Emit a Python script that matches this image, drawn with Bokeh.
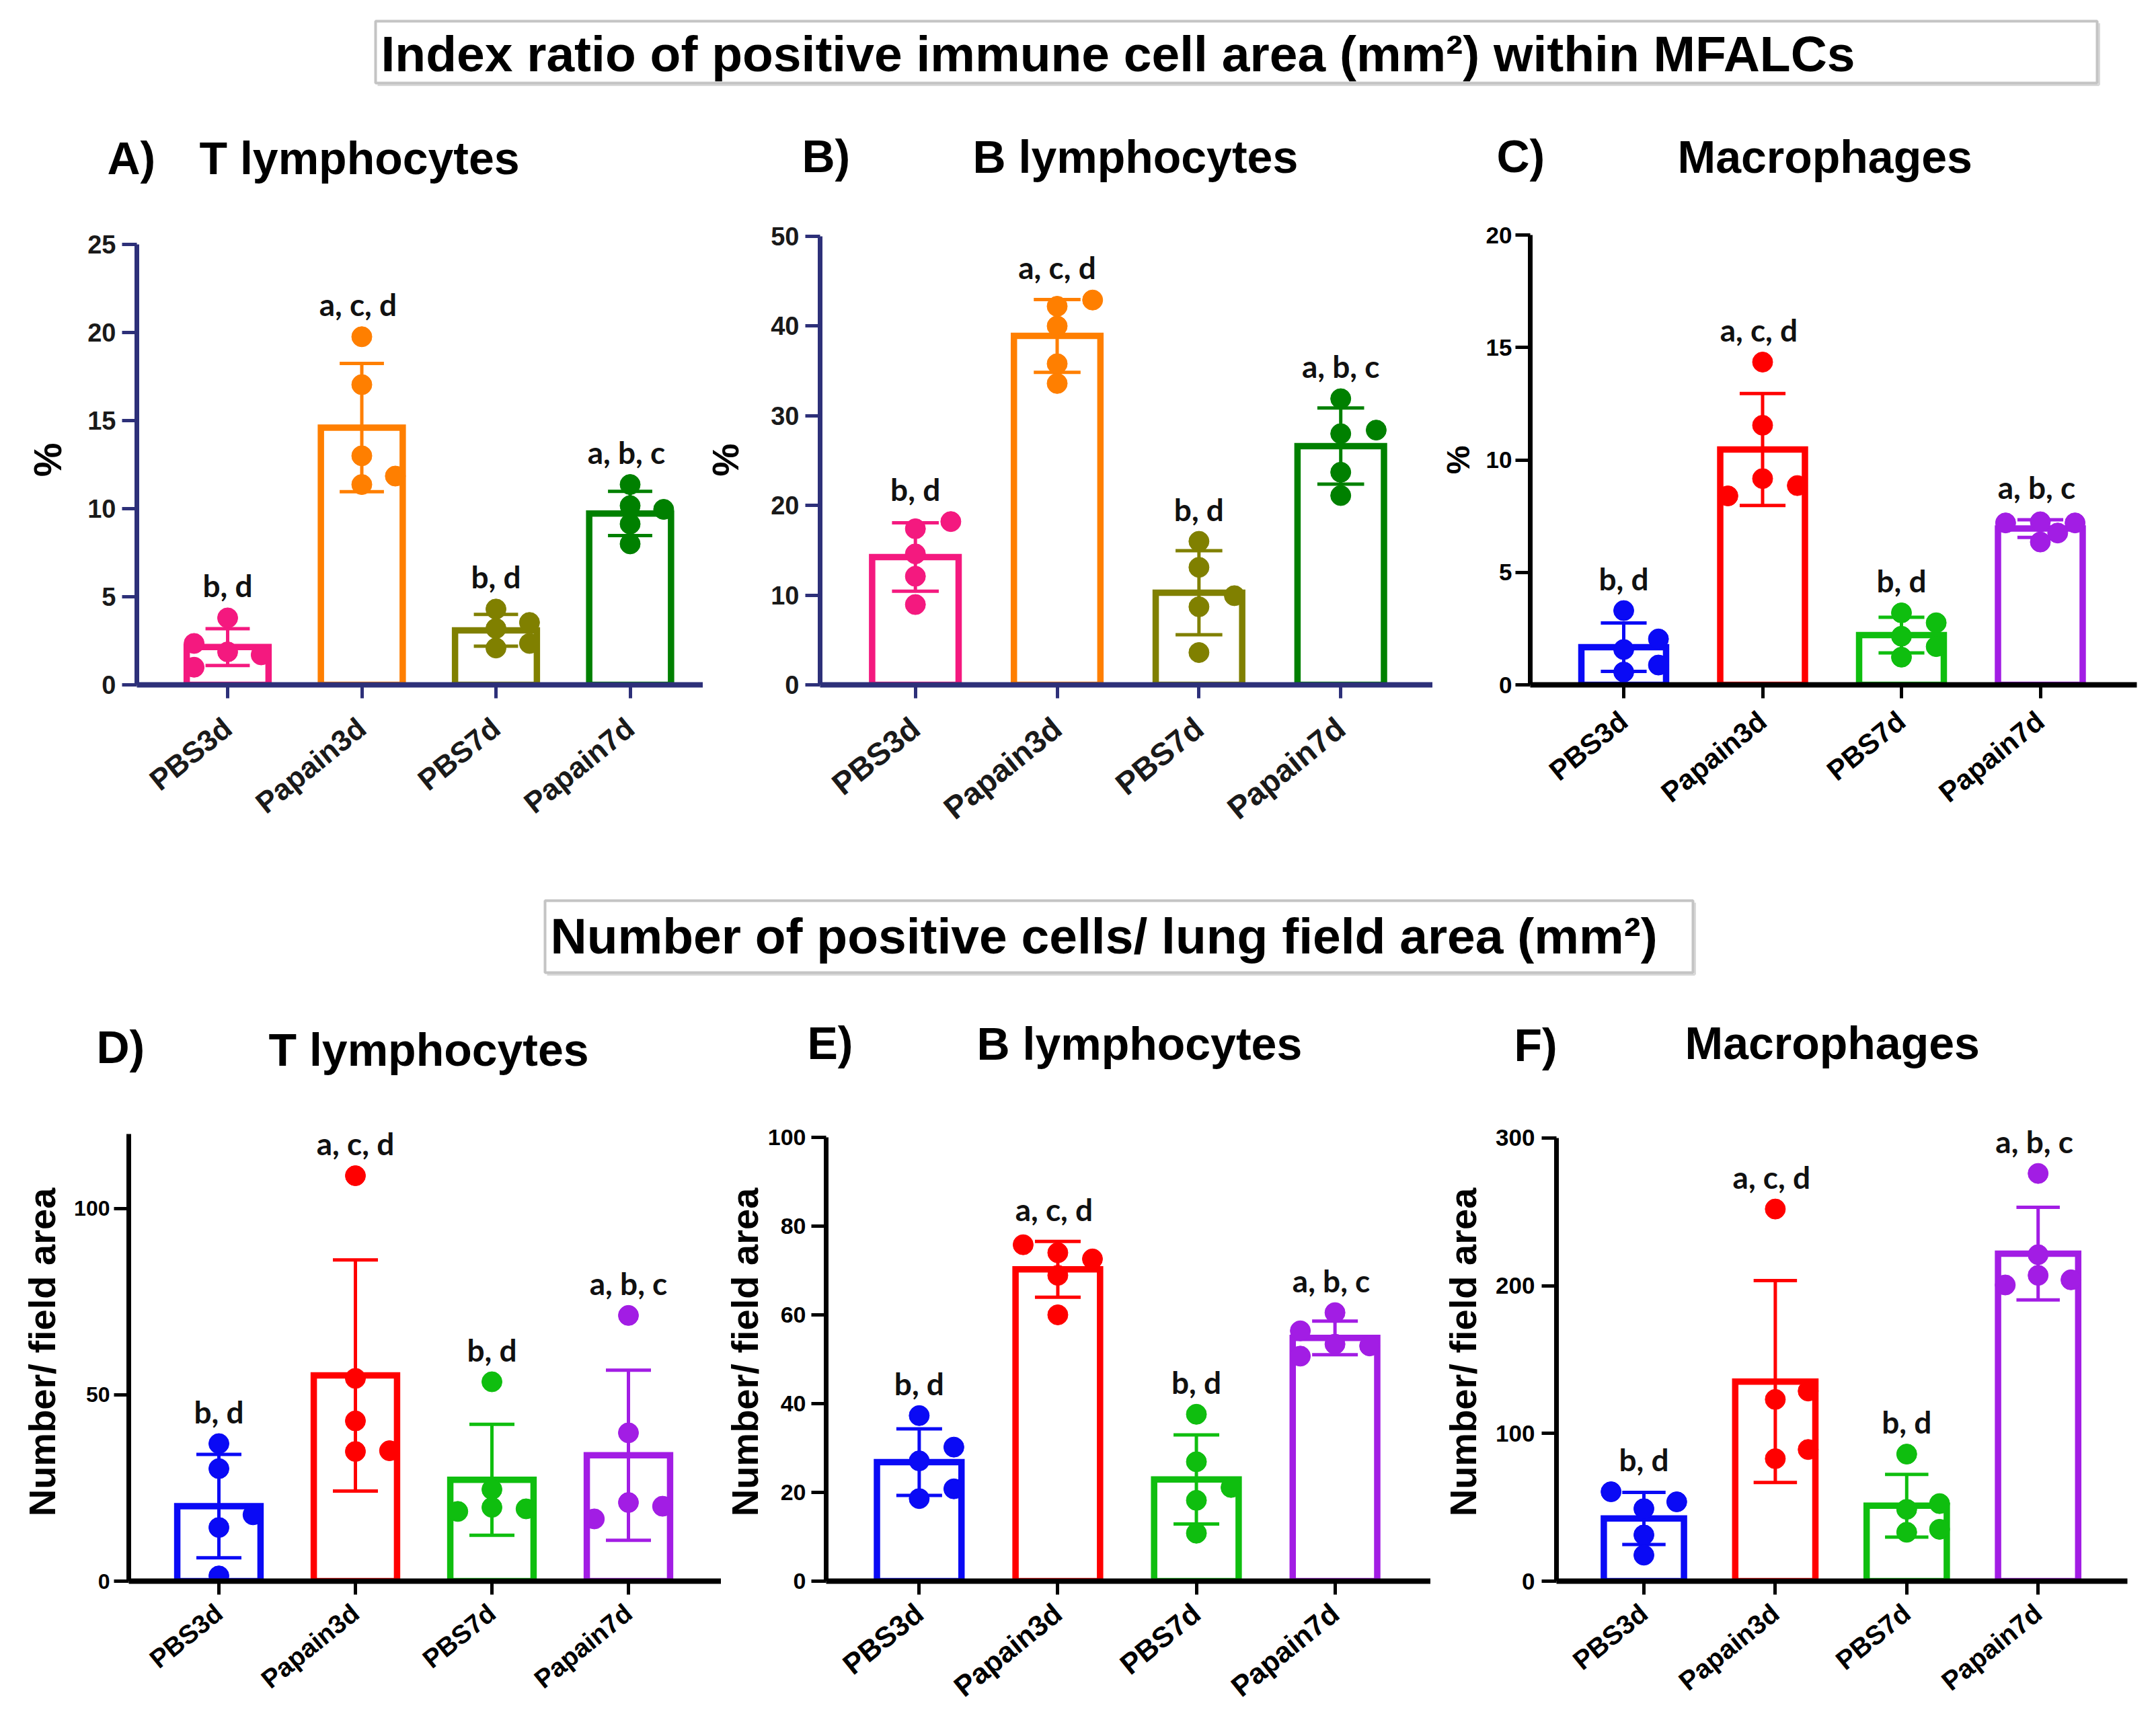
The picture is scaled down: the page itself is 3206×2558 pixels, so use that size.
import math
import statistics
from bokeh.plotting import figure
from bokeh.models import Range1d, FixedTicker, LabelSet, ColumnDataSource
from bokeh.layouts import column, row
from bokeh.core.properties import value
from bokeh.embed import file_html
from bokeh.resources import INLINE

# ---------------- data ----------------
GROUPS = ["PBS3d", "Papain3d", "PBS7d", "Papain7d"]

TITLE_TOP = "Index ratio of positive immune cell area (mm²) within MFALCs"
TITLE_BOTTOM = "Number of positive cells/ lung field area (mm²)"

PANEL_TAGS = ["A)", "B)", "C)", "D)", "E)", "F)"]
PANEL_NAMES = ["T lymphocytes", "B lymphocytes", "Macrophages",
               "T lymphocytes", "B lymphocytes", "Macrophages"]

# replicate values per group (index ratio, %)
A_POINTS = [[3.8, 1.87, 1.7, 2.35, 1.0],
            [19.76, 17.04, 13.0, 11.37, 11.85],
            [3.2, 3.54, 2.35, 4.3, 2.09],
            [11.37, 10.17, 9.96, 9.13, 8.0]]
B_POINTS = [[17.4, 14.6, 12.1, 8.95, 18.2],
            [40.0, 35.8, 33.6, 42.2, 42.9],
            [16.0, 13.1, 8.7, 3.6, 9.94],
            [31.9, 28.0, 23.7, 21.1, 28.4]]
C_POINTS = [[3.3, 1.57, 2.04, 0.88, 0.57],
            [14.35, 11.54, 9.17, 8.86, 8.4],
            [2.16, 2.76, 1.7, 3.2, 1.23],
            [7.25, 7.2, 7.2, 6.75, 6.35]]
# replicate values per group (number / field area)
D_POINTS = [[36.9, 30.2, 14.4, 1.4, 17.8],
            [108.8, 54.4, 43.0, 34.8, 35.0],
            [53.5, 24.6, 19.8, 19.4, 18.7],
            [71.3, 39.8, 21.1, 20.1, 16.7]]
E_POINTS = [[37.3, 27.1, 30.2, 18.6, 20.8],
            [60.0, 68.9, 72.6, 74.0, 75.8],
            [37.6, 26.9, 18.2, 10.8, 21.1],
            [60.5, 53.4, 53.0, 56.4, 50.7]]
F_POINTS = [[49.1, 31.3, 17.6, 53.7, 60.5],
            [251.9, 123.0, 128.7, 82.9, 89.1],
            [86.0, 48.6, 52.5, 33.1, 35.1],
            [276.0, 221.0, 207.0, 204.0, 200.5]]

A_LETTERS = ["b, d", "a,  c, d", "b, d", "a,  b, c"]
B_LETTERS = ["b, d", "a, c, d", "b, d", "a, b, c"]
C_LETTERS = ["b, d", "a,  c, d", "b, d", "a,  b, c"]
D_LETTERS = ["b, d", "a, c, d", "b, d", "a, b, c"]
E_LETTERS = ["b, d", "a,  c, d", "b, d", "a,  b, c"]
F_LETTERS = ["b, d", "a,  c, d", "b, d", "a,  b, c"]

A_YMAX, A_YTICKS = 25, [0, 5, 10, 15, 20, 25]
B_YMAX, B_YTICKS = 50, [0, 10, 20, 30, 40, 50]
C_YMAX, C_YTICKS = 20, [0, 5, 10, 15, 20]
D_YMAX, D_YTICKS = 120, [0, 50, 100]
E_YMAX, E_YTICKS = 100, [0, 20, 40, 60, 80, 100]
F_YMAX, F_YTICKS = 300, [0, 100, 200, 300]

PCT_LABEL = "%"
NUM_LABEL = "Number/ field area"

# ---------------- styles ----------------
PINK, ORANGE, OLIVE, DGREEN = "#F4197F", "#FF7F00", "#808000", "#008000"
BLUE, RED, LGREEN, PURPLE = "#0A0AF5", "#FF0000", "#0FBE0F", "#A21DE4"
NAVY = "#2D3079"
COLS_AB = [PINK, ORANGE, OLIVE, DGREEN]
COLS_REST = [BLUE, RED, LGREEN, PURPLE]

SANS = "Liberation Sans"
LETTER_FONT = "Lato"

BAR_W = 0.61
CAP_W = 0.33
SLOT = 0.25
MARKER = 30
COLLIDE_PX = 26
LABEL_GAP_PX = 48
LABEL_ANGLE = math.radians(39)

PAGE_W = 3190


def swarm(vals, px_per_unit, slot_px):
    tries = [0, 1, -1, 0.5, -0.5, 1.5, -1.5, 2, -2]
    placed = []
    out = []
    for v in vals:
        chosen = tries[-1]
        for s in tries:
            ok = True
            for ps, pv in placed:
                dx = (s - ps) * slot_px
                dy = (v - pv) * px_per_unit
                if dx * dx + dy * dy < COLLIDE_PX * COLLIDE_PX:
                    ok = False
                    break
            if ok:
                chosen = s
                break
        placed.append((chosen, v))
        out.append(chosen)
    return out


def stats(points):
    means = [statistics.mean(v) for v in points]
    sds = [statistics.stdev(v) for v in points]
    return means, sds


def letter_heights(points, ppu):
    means, sds = stats(points)
    tops = [max(max(v), m + s) for v, m, s in zip(points, means, sds)]
    return [t + LABEL_GAP_PX / ppu for t in tops]


def frame_top_needed(points, ymax, y_top, y_bot):
    ppu = (y_bot - y_top) / ymax
    ly = letter_heights(points, ppu)
    head = max(0.0, max((y - ymax) * ppu + 26 for y in ly))
    return y_top - int(math.ceil(head))


def panel(points, letters, ymax, yticks, ylabel, colors, axis_color, tick_color,
          geo, frame_top, frame_bot, fig_top, fig_h, fonts):
    # geo: figure left/right, frame left/right, first category centre, category
    # spacing, pixel row of the top tick
    fx0, fx1, frl, frr, c0, sp, y_top = geo
    tick_size, cat_size, cat_standoff, ylab_size, ylab_standoff, tick_standoff = fonts
    fw = fx1 - fx0
    frw = frr - frl
    ppu = (frame_bot - y_top) / ymax
    x0 = -(c0 - frl) / sp
    x1 = x0 + frw / sp

    means, sds = stats(points)
    lo = [m - s for m, s in zip(means, sds)]
    hi = [m + s for m, s in zip(means, sds)]
    ly = letter_heights(points, ppu)

    p = figure(width=fw, height=fig_h, output_backend="svg", toolbar_location=None,
               x_range=Range1d(x0, x1),
               y_range=Range1d(0, ymax + (y_top - frame_top) / ppu),
               min_border_left=frl - fx0, min_border_right=fx1 - frr,
               min_border_top=frame_top - fig_top,
               min_border_bottom=fig_top + fig_h - frame_bot)
    p.outline_line_color = None
    p.background_fill_color = "white"
    p.border_fill_color = "white"
    p.xgrid.visible = False
    p.ygrid.visible = False

    xs = list(range(len(GROUPS)))
    p.vbar(x=xs, top=means, bottom=0, width=BAR_W, fill_color="white",
           line_color=colors, line_width=9.5, line_join="miter")
    p.segment(x0=xs, y0=lo, x1=xs, y1=hi, line_color=colors, line_width=5)
    p.segment(x0=[x - CAP_W / 2 for x in xs], y0=hi, x1=[x + CAP_W / 2 for x in xs], y1=hi,
              line_color=colors, line_width=5)
    p.segment(x0=[x - CAP_W / 2 for x in xs], y0=lo, x1=[x + CAP_W / 2 for x in xs], y1=lo,
              line_color=colors, line_width=5)

    slot_px = SLOT * sp
    px, py, pc = [], [], []
    for i, vals in enumerate(points):
        slots = swarm(vals, ppu, slot_px)
        for v, s in zip(vals, slots):
            px.append(i + s * SLOT)
            py.append(v)
            pc.append(colors[i])
    p.scatter(x=px, y=py, size=MARKER, fill_color=pc, line_color=pc, marker="circle")

    src = ColumnDataSource(dict(x=xs, y=ly, t=letters))
    p.add_layout(LabelSet(x="x", y="y", text="t", source=src, text_align="center",
                          text_baseline="middle", text_font=value(LETTER_FONT),
                          text_font_style="bold", text_font_size="46px",
                          text_color="#111111"))

    xa = p.xaxis[0]
    xa.ticker = FixedTicker(ticks=xs)
    xa.major_label_overrides = {i: g for i, g in enumerate(GROUPS)}
    xa.major_label_orientation = LABEL_ANGLE
    xa.axis_line_color = axis_color
    xa.axis_line_width = 8
    xa.major_tick_line_color = axis_color
    xa.major_tick_line_width = 5
    xa.major_tick_out = 20
    xa.major_tick_in = 0
    xa.minor_tick_line_color = None
    xa.major_label_text_font = SANS
    xa.major_label_text_font_style = "bold"
    xa.major_label_text_font_size = "%dpx" % cat_size
    xa.major_label_text_color = tick_color
    xa.major_label_standoff = cat_standoff

    ya = p.yaxis[0]
    ya.ticker = FixedTicker(ticks=yticks)
    ya.bounds = (0, ymax)
    ya.axis_line_color = axis_color
    ya.axis_line_width = 7
    ya.major_tick_line_color = axis_color
    ya.major_tick_line_width = 5
    ya.major_tick_out = 22
    ya.major_tick_in = 0
    ya.minor_tick_line_color = None
    ya.major_label_text_font = SANS
    ya.major_label_text_font_style = "bold"
    ya.major_label_text_font_size = "%dpx" % tick_size
    ya.major_label_text_color = tick_color
    ya.major_label_standoff = tick_standoff
    ya.axis_label = ylabel
    ya.axis_label_text_font = SANS
    ya.axis_label_text_font_style = "bold"
    ya.axis_label_text_font_size = "%dpx" % ylab_size
    ya.axis_label_text_color = "black"
    ya.axis_label_standoff = ylab_standoff
    return p


def banner(y_top, y_bottom, title, title_size, box, title_xy, tags):
    p = figure(width=PAGE_W, height=y_bottom - y_top, output_backend="svg",
               toolbar_location=None, x_range=Range1d(0, PAGE_W),
               y_range=Range1d(y_bottom, y_top), min_border=0,
               x_axis_location=None, y_axis_location=None)
    p.outline_line_color = None
    p.background_fill_color = "white"
    p.border_fill_color = "white"
    p.grid.visible = False
    l, r, t, b = box
    # soft drop shadow on the lower/right edges, then the light frame
    p.segment(x0=[l + 3, r + 3], y0=[b + 3, t + 3], x1=[r + 3, r + 3], y1=[b + 3, b + 3],
              line_color="#D9D9D9", line_width=3)
    p.quad(left=[l], right=[r], top=[t], bottom=[b], fill_color=None,
           line_color="#C4C4C4", line_width=4)
    p.text(x=[title_xy[0]], y=[title_xy[1]], text=[title], text_align="left",
           text_baseline="middle", text_font=value(SANS), text_font_style="bold",
           text_font_size="%dpx" % title_size, text_color="black")
    p.text(x=[t_[0] for t_ in tags], y=[t_[1] for t_ in tags], text=[t_[2] for t_ in tags],
           text_align="left", text_baseline="middle", text_font=value(SANS),
           text_font_style="bold", text_font_size="68px", text_color="black")
    return p


# ---------------- layout ----------------
top_banner = banner(0, 300, TITLE_TOP, 75, (558, 3118, 31, 123), (566, 79),
                    [(159, 234, PANEL_TAGS[0]), (296, 234, PANEL_NAMES[0]),
                     (1192, 231, PANEL_TAGS[1]), (1446, 232, PANEL_NAMES[1]),
                     (2225, 231, PANEL_TAGS[2]), (2494, 232, PANEL_NAMES[2])])
bottom_banner = banner(1300, 1620, TITLE_BOTTOM, 75, (810, 2517, 1339, 1446), (818, 1391),
                       [(143, 1556, PANEL_TAGS[3]), (399, 1560, PANEL_NAMES[3]),
                        (1200, 1550, PANEL_TAGS[4]), (1452, 1551, PANEL_NAMES[4]),
                        (2251, 1553, PANEL_TAGS[5]), (2505, 1550, PANEL_NAMES[5])])

#        fx0   fx1   frl   frr   c0    sp     ytop
GEO_A = (0, 1045, 203, 1045, 338, 199.5, 363)
GEO_B = (1045, 2130, 1217, 2130, 1359, 211.3, 351)
GEO_C = (2130, 3190, 2275, 3177, 2414, 206.5, 349)
GEO_D = (0, 1072, 191, 1072, 325, 203.0, 1686)
GEO_E = (1072, 2127, 1224, 2127, 1363, 207.0, 1691)
GEO_F = (2127, 3190, 2314, 3163, 2444, 195.4, 1692)

ROW1_TOP, ROW1_H, ROW1_ZERO = 300, 1000, 1018
ROW2_TOP, ROW2_H, ROW2_ZERO = 1620, 934, 2353

row1_frame_top = min(frame_top_needed(A_POINTS, A_YMAX, GEO_A[6], ROW1_ZERO),
                     frame_top_needed(B_POINTS, B_YMAX, GEO_B[6], ROW1_ZERO),
                     frame_top_needed(C_POINTS, C_YMAX, GEO_C[6], ROW1_ZERO))
row2_frame_top = min(frame_top_needed(D_POINTS, D_YMAX, GEO_D[6], ROW2_ZERO),
                     frame_top_needed(E_POINTS, E_YMAX, GEO_E[6], ROW2_ZERO),
                     frame_top_needed(F_POINTS, F_YMAX, GEO_F[6], ROW2_ZERO))

R1 = (row1_frame_top, ROW1_ZERO, ROW1_TOP, ROW1_H)
R2 = (row2_frame_top, ROW2_ZERO, ROW2_TOP, ROW2_H)

# tick, category, category standoff, y-label, y-label standoff, tick standoff
pA = panel(A_POINTS, A_LETTERS, A_YMAX, A_YTICKS, PCT_LABEL, COLS_AB, NAVY, "#1A1A1A",
           GEO_A, *R1, (38, 44, 38, 57, 24, 9))
pB = panel(B_POINTS, B_LETTERS, B_YMAX, B_YTICKS, PCT_LABEL, COLS_AB, NAVY, "#1A1A1A",
           GEO_B, *R1, (38, 47, 38, 55, 33, 9))
pC = panel(C_POINTS, C_LETTERS, C_YMAX, C_YTICKS, PCT_LABEL, COLS_REST, "black", "black",
           GEO_C, *R1, (35, 42, 28, 48, 12, 5))
pD = panel(D_POINTS, D_LETTERS, D_YMAX, D_YTICKS, NUM_LABEL, COLS_REST, "black", "black",
           GEO_D, *R2, (32, 39, 22, 56, 13, 6))
pE = panel(E_POINTS, E_LETTERS, E_YMAX, E_YTICKS, NUM_LABEL, COLS_REST, "black", "black",
           GEO_E, *R2, (34, 43, 22, 56, 0, 8))
pF = panel(F_POINTS, F_LETTERS, F_YMAX, F_YTICKS, NUM_LABEL, COLS_REST, "black", "black",
           GEO_F, *R2, (35, 40, 22, 56, 14, 10))

layout = column(top_banner, row(pA, pB, pC), bottom_banner, row(pD, pE, pF))

with open("out.html", "w") as f:
    f.write(file_html(layout, INLINE))
